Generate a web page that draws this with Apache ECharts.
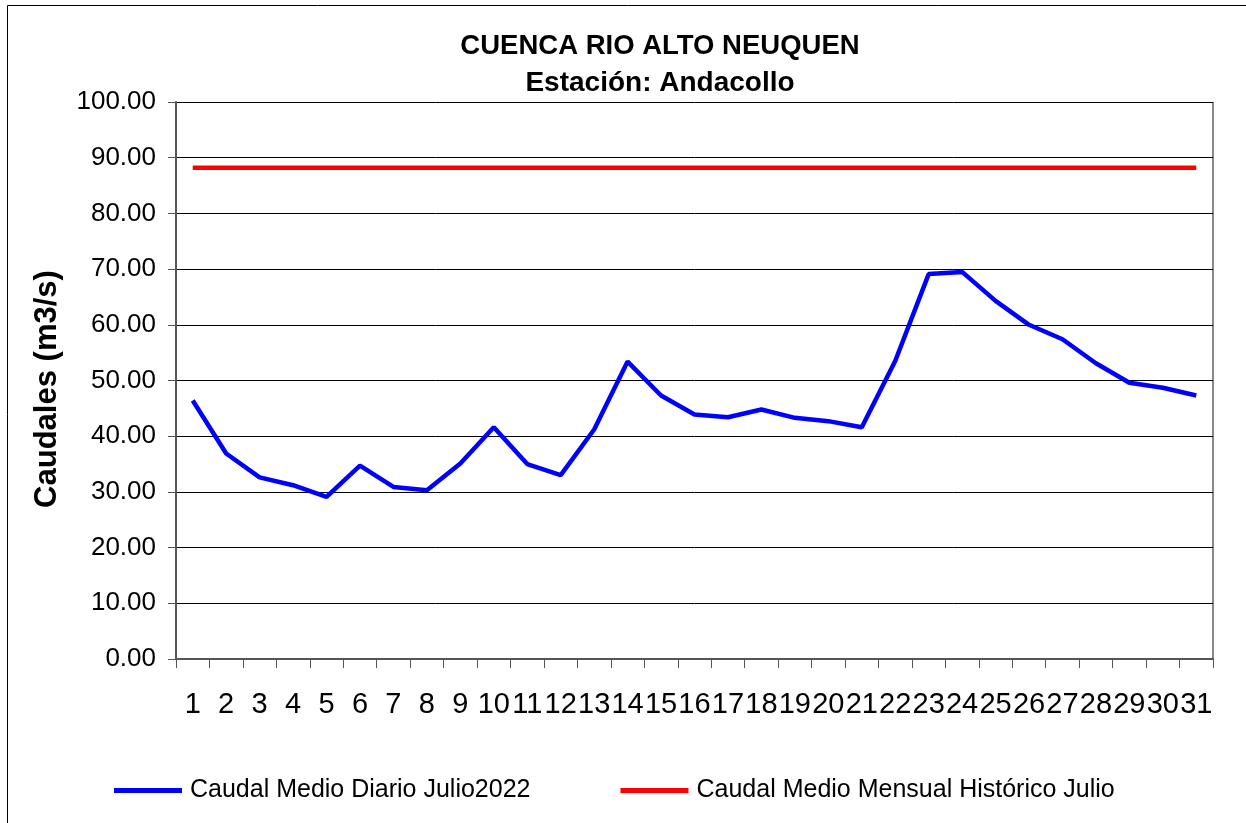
<!DOCTYPE html>
<html>
<head>
<meta charset="utf-8">
<script src="https://cdn.jsdelivr.net/npm/echarts@6/dist/echarts.min.js"></script>
<style>
  html, body { margin: 0; padding: 0; background: #fff; }
  #chart { width: 1246px; height: 823px; }
</style>
</head>
<body>
<div id="chart"></div>
<script>
// dias de julio
var dias = ['1','2','3','4','5','6','7','8','9','10','11','12','13','14','15','16',
  '17','18','19','20','21','22','23','24','25','26','27','28','29','30','31'];
// caudal medio diario julio 2022 (m3/s)
var caudalDiario = [46.4, 36.9, 32.6, 31.2, 29.1, 34.7, 30.9, 30.3, 35.1, 41.6, 35.0,
  33.0, 41.2, 53.4, 47.3, 43.9, 43.4, 44.8, 43.3, 42.7, 41.6, 53.5, 69.1, 69.5,
  64.3, 60.0, 57.4, 53.1, 49.6, 48.7, 47.3];
// caudal medio mensual historico julio
var caudalHistorico = [88.2, 88.2, 88.2, 88.2, 88.2, 88.2, 88.2, 88.2, 88.2, 88.2, 88.2,
  88.2, 88.2, 88.2, 88.2, 88.2, 88.2, 88.2, 88.2, 88.2, 88.2, 88.2, 88.2, 88.2,
  88.2, 88.2, 88.2, 88.2, 88.2, 88.2, 88.2];

var fuente = 'Liberation Sans, Arial, sans-serif';
var chart = echarts.init(document.getElementById('chart'));

chart.setOption({
  backgroundColor: '#fff',
  animation: false,
  graphic: [{
    type: 'rect',
    shape: { x: 7.5, y: 5.5, width: 1300, height: 900 },
    style: { fill: 'none', stroke: '#000', lineWidth: 1 },
    silent: true
  }, {
    // borde derecho del area de trazado
    type: 'line',
    shape: { x1: 1213, y1: 102, x2: 1213, y2: 659 },
    style: { stroke: '#888', lineWidth: 2 },
    silent: true
  }, {
    // titulo del eje Y
    type: 'text',
    x: 47, y: 389,
    rotation: Math.PI / 2,
    style: {
      text: 'Caudales (m3/s)',
      fontFamily: fuente, fontSize: 31, fontWeight: 'bold', fill: '#000',
      align: 'center', verticalAlign: 'middle'
    },
    silent: true
  }],
  title: [{
    text: 'CUENCA RIO ALTO NEUQUEN',
    left: 655, top: 27, textAlign: 'center',
    textStyle: { fontFamily: fuente, fontSize: 27.5, fontWeight: 'bold', color: '#000' }
  }, {
    text: 'Estación: Andacollo',
    left: 655, top: 64, textAlign: 'center',
    textStyle: { fontFamily: fuente, fontSize: 28, fontWeight: 'bold', color: '#000' }
  }],
  legend: {
    left: 109, top: 773,
    icon: 'rect',
    itemWidth: 68, itemHeight: 5, itemGap: 90,
    textStyle: { fontFamily: fuente, fontSize: 25, color: '#000', padding: [0, 0, 0, 3] },
    data: ['Caudal Medio Diario Julio2022', 'Caudal Medio Mensual Histórico Julio']
  },
  grid: { left: 176, right: 33, top: 102, bottom: 164 },
  xAxis: {
    type: 'category',
    data: dias,
    boundaryGap: true,
    axisLine: { lineStyle: { color: '#555', width: 2 } },
    axisTick: { show: true, length: 9, interval: 0, lineStyle: { color: '#555', width: 1 } },
    axisLabel: { interval: 0, fontFamily: fuente, fontSize: 29, color: '#000', margin: 31 }
  },
  yAxis: {
    type: 'value',
    min: 0, max: 100, interval: 10,
    axisLine: { show: true, lineStyle: { color: '#555', width: 2 } },
    axisTick: { show: true, length: 8, lineStyle: { color: '#555' } },
    axisLabel: {
      fontFamily: fuente, fontSize: 26, color: '#000', margin: 20,
      formatter: function (v) { return v.toFixed(2); }
    },
    splitLine: { lineStyle: { color: '#000', width: 1 } }
  },
  series: [{
    name: 'Caudal Medio Diario Julio2022',
    type: 'line',
    data: caudalDiario,
    symbol: 'none',
    lineStyle: { color: '#0000ff', width: 4.5 },
    itemStyle: { color: '#0000ff' }
  }, {
    name: 'Caudal Medio Mensual Histórico Julio',
    type: 'line',
    data: caudalHistorico,
    symbol: 'none',
    lineStyle: { color: '#ff0000', width: 4.5 },
    itemStyle: { color: '#ff0000' }
  }]
});
</script>
</body>
</html>
